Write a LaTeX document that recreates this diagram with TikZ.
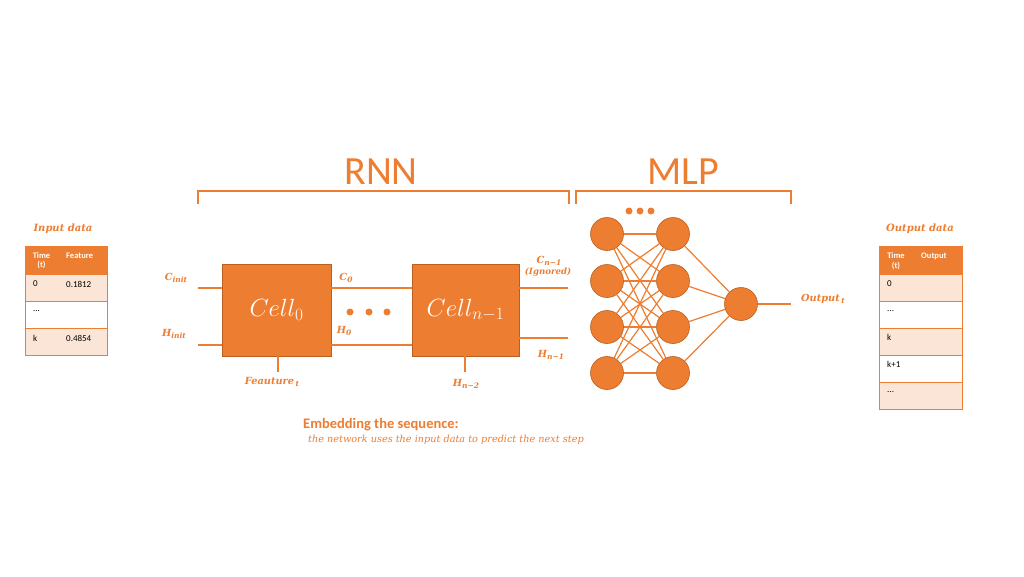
\documentclass[tikz,border=0pt]{standalone}
\usepackage{fontspec}
\setmainfont{DejaVu Serif}
\newfontfamily\carl{Carlito}
\definecolor{orng}{HTML}{ED7D31}
\definecolor{orngdark}{HTML}{B9601F}
\definecolor{lightor}{HTML}{FBE5D6}
\newcommand{\sbs}[1]{\raisebox{-0.35ex}{\fontsize{7.5}{8}\selectfont #1}}
\tikzset{
  conn/.style={draw=orng, line width=1.5pt},
  brak/.style={draw=orng, line width=2pt},
  cellbox/.style={draw=orngdark, line width=0.8pt, fill=orng, minimum width=109pt, minimum height=92pt, inner sep=0pt, text=white},
  neuron/.style={circle, draw=orngdark, line width=0.6pt, fill=orng, minimum size=33pt, inner sep=0pt},
  dotn/.style={circle, fill=orng, minimum size=7pt, inner sep=0pt},
  lab/.style={text=orng, font=\fontsize{9.8}{11}\selectfont\bfseries\itshape, inner sep=1pt},
  hdr/.style={draw=orng, line width=1pt, fill=orng, inner sep=0pt},
  rowl/.style={draw=orng, line width=1pt, fill=lightor, inner sep=0pt},
  roww/.style={draw=orng, line width=1pt, fill=white, inner sep=0pt},
  htxt/.style={text=white, font=\carl\fontsize{8.5}{9.5}\selectfont\bfseries, align=center, inner sep=0pt},
  ttxt/.style={text=black, font=\carl\fontsize{9}{10}\selectfont, anchor=west, inner sep=0pt},
  big/.style={text=orng, font=\carl\fontsize{40}{44}\selectfont}
}
\begin{document}
\begin{tikzpicture}[x=1pt,y=-1pt]
\useasboundingbox[fill=white] (0,0) rectangle (1024,576);

% titles and brackets
\node[big] (rnn) at (381,172) {RNN};
\node[big] (mlp) at (683,172) {MLP};
\draw[brak] (198,204) -- (198,191) -- (569,191) -- (569,204);
\draw[brak] (576,204) -- (576,191) -- (791,191) -- (791,204);

% input table
\node[lab, font=\fontsize{10}{12}\selectfont\bfseries\itshape] (inlab) at (63,229) {Input data};
\path[hdr] (25,246) rectangle (107,274);
\path[rowl] (25,274) rectangle (107,301);
\path[roww] (25,301) rectangle (107,328);
\path[rowl] (25,328) rectangle (107,355);
\node[htxt] (ih1) at (41.5,260.5) {Time\\(t)};
\node[htxt, anchor=west] (ih2) at (66,256) {Feature};
\node[ttxt] (i1a) at (33,284) {0};
\node[ttxt] (i1b) at (66,284) {0.1812};
\node[ttxt] (i2a) at (33,311) {...};
\node[ttxt] (i3a) at (33,338) {k};
\node[ttxt] (i3b) at (66,338) {0.4854};

% output table
\node[lab, font=\fontsize{10}{12}\selectfont\bfseries\itshape] (outlab) at (920,229) {Output data};
\path[hdr] (879,246) rectangle (962,274);
\path[rowl] (879,274) rectangle (962,301);
\path[roww] (879,301) rectangle (962,328);
\path[rowl] (879,328) rectangle (962,355);
\path[roww] (879,355) rectangle (962,382);
\path[rowl] (879,382) rectangle (962,409);
\node[htxt] (oh1) at (896,261) {Time\\(t)};
\node[htxt, anchor=west] (oh2) at (921,256) {Output};
\node[ttxt] (o1) at (887,284) {0};
\node[ttxt] (o2) at (887,311) {...};
\node[ttxt] (o3) at (887,337) {k};
\node[ttxt] (o4) at (887,364) {k+1};
\node[ttxt] (o5) at (887,392) {...};

% RNN cells
\node[cellbox] (c0) at (276.5,310) {\fontsize{24}{28}\selectfont$Cell_0$};
\node[cellbox, minimum width=107pt] (cn) at (465.5,310) {\fontsize{24}{28}\selectfont$Cell_{n-1}$};

\coordinate (cinit) at (198,288);
\coordinate (hinit) at (198,345);
\coordinate (feat) at (278,372);
\coordinate (hn2) at (465,372);
\coordinate (cout) at (568,288);
\coordinate (hout) at (568,338);

\draw[conn] (cinit) -- (c0.west |- cinit);
\draw[conn] (hinit) -- (c0.west |- hinit);
\draw[conn] (c0.east |- cinit) -- (cn.west |- cinit);
\draw[conn] (c0.east |- hinit) -- (cn.west |- hinit);
\draw[conn] (feat) -- (c0.south -| feat);
\draw[conn] (hn2) -- (cn.south -| hn2);
\draw[conn] (cn.east |- cout) -- (cout);
\draw[conn] (cn.east |- hout) -- (hout);

\node[dotn] (d1) at (350,312) {};
\node[dotn] (d2) at (369,312) {};
\node[dotn] (d3) at (387,312) {};

% RNN labels
\node[lab] (lcinit) at (176,278) {C\sbs{init}};
\node[lab] (lhinit) at (174,334) {H\sbs{init}};
\node[lab] (lc0) at (346,278) {C\sbs{0}};
\node[lab] (lh0) at (344,331) {H\sbs{0}};
\node[lab] (lfeat) at (272,382) {Feauture\,\sbs{t}};
\node[lab] (lhn2) at (466,384) {H\sbs{n−2}};
\node[lab] (lcn) at (549,261) {C\sbs{n−1}};
\node[lab, font=\fontsize{8.6}{10}\selectfont\bfseries\itshape] (lign) at (548,272) {(Ignored)};
\node[lab] (lhn1) at (551,355) {H\sbs{n−1}};

% MLP
\foreach \i/\y in {1/234,2/281,3/327,4/373}{
  \node[neuron] (a\i) at (607,\y) {};
  \node[neuron] (b\i) at (673,\y) {};
}
\node[neuron] (out) at (741,304) {};
\foreach \i in {1,...,4}{
  \foreach \j in {1,...,4}{
    \draw[orng, line width=1.2pt] (a\i) -- (b\j);
  }
  \draw[orng, line width=1.2pt] (b\i) -- (out);
}
\coordinate (outend) at (791,304);
\draw[conn] (out) -- (outend);
\node[lab] (lout) at (823,299) {Output\,\sbs{t}};

\node[dotn] (m1) at (629,211) {};
\node[dotn] (m2) at (640,211) {};
\node[dotn] (m3) at (651,211) {};

% caption
\node[text=orng, font=\carl\fontsize{14.5}{17}\selectfont\bfseries, anchor=west, inner sep=0pt] (emb) at (303,425) {Embedding the sequence:};
\node[text=orng, font=\fontsize{9.7}{11}\selectfont\itshape, anchor=west, inner sep=0pt] (embs) at (308,440) {the network uses the input data to predict the next step};
\end{tikzpicture}
\end{document}
